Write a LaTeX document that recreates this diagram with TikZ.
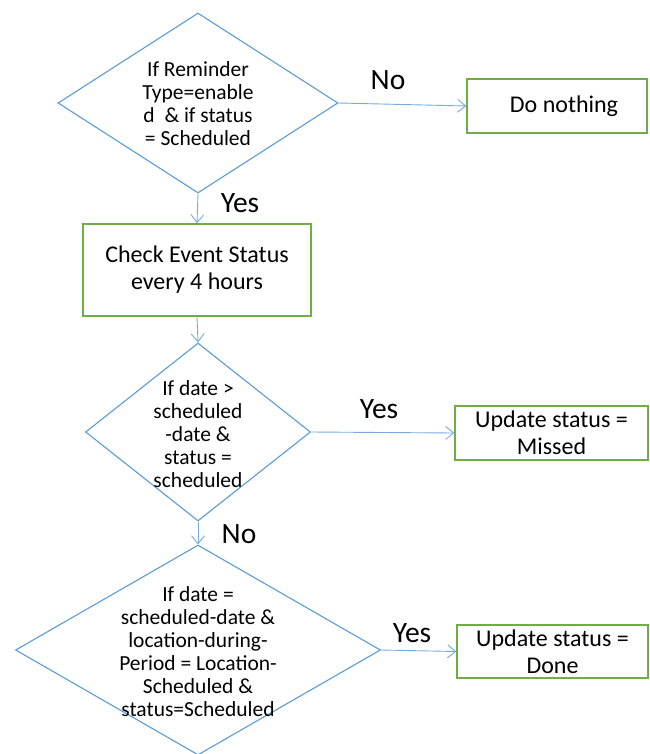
\documentclass[tikz,border=0pt]{standalone}
\usepackage{fontspec}
\setmainfont{Carlito}
\usetikzlibrary{shapes.geometric,arrows.meta}
\definecolor{dblue}{RGB}{91,155,213}
\definecolor{ablue}{RGB}{120,170,225}
\definecolor{bgreen}{RGB}{112,173,71}
\begin{document}
\begin{tikzpicture}[x=1pt,y=-1pt,
  dia/.style={diamond,draw=dblue,line width=1.1pt,inner sep=0pt},
  dtext/.style={align=center,font=\fontsize{21.5}{23}\selectfont,inner sep=0pt},
  box/.style={rectangle,draw=bgreen,line width=1.4pt,align=center,font=\fontsize{24}{27}\selectfont,inner sep=0pt},
  lbl/.style={font=\fontsize{29.5}{32}\selectfont,inner sep=0pt},
  conn/.style={draw=ablue,line width=0.9pt,-{Straight Barb[length=8pt,width=13pt,line width=0.9pt]}}]
\useasboundingbox (0,0) rectangle (649,754);
% diamonds
\node[dia,minimum width=280pt,minimum height=180pt] (d1) at (198,103) {};
\node[dtext] (t1) at (198,104) {If Reminder\\Type=enable\\d\ \ \& if status\\= Scheduled};
\node[dia,minimum width=225pt,minimum height=178pt] (d2) at (198,432) {};
\node[dtext] (t2) at (198,434) {If date >\\scheduled\\-date \&\\status =\\scheduled};
\node[dia,minimum width=365pt,minimum height=210pt] (d3) at (198,650) {};
\node[dtext] (t3) at (198,652) {If date =\\scheduled-date \&\\location-during-\\Period = Location-\\Scheduled \&\\status=Scheduled};
% boxes
\node[box,minimum width=180pt,minimum height=54pt] (bn) at (557,106) {\hspace{14pt}Do nothing};
\node[box,minimum width=228pt,minimum height=92pt] (bc) at (197,270) {Check Event Status\\every 4 hours};
\node[box,minimum width=193pt,minimum height=54pt] (bm) at (551.5,433) {Update status =\\Missed};
\node[box,minimum width=191pt,minimum height=53pt] (bd) at (552.5,651.5) {Update status =\\Done};
% connectors
\draw[conn] (d1.east) -- (bn.west);
\draw[conn] (d1.south) -- (bc.north);
\draw[conn] (bc.south) -- (d2.north);
\draw[conn] (d2.east) -- (bm.west);
\draw[conn] (d2.south) -- (d3.north);
\draw[conn] (d3.east) -- (bd.west);
% labels
\node[lbl] (l1) at (388,80) {No};
\node[lbl] (l2) at (240,203) {Yes};
\node[lbl] (l3) at (379,409) {Yes};
\node[lbl] (l4) at (239,534) {No};
\node[lbl] (l5) at (412,633) {Yes};
\end{tikzpicture}
\end{document}
